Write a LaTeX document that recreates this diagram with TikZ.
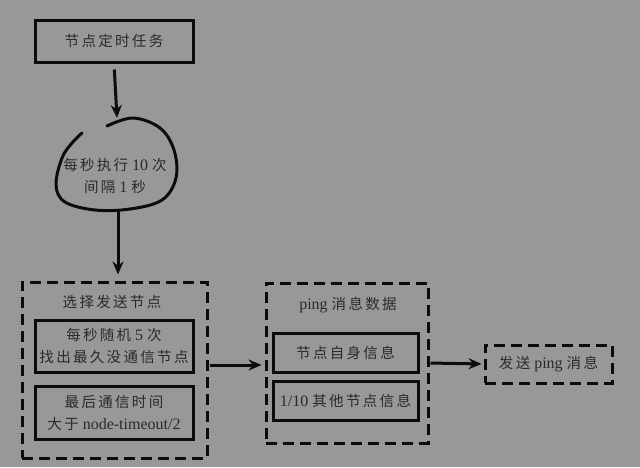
\documentclass[tikz,border=0pt]{standalone}
\usepackage{fontspec}
\setmainfont{Liberation Serif}
\newfontfamily\cjk[LetterSpace=16]{Noto Sans CJK SC}
\usetikzlibrary{arrows.meta,shapes.geometric}
\definecolor{bg}{RGB}{152,152,152}
\definecolor{ink}{RGB}{12,12,12}
\definecolor{txt}{RGB}{42,42,42}
\tikzset{
  solidbox/.style 2 args={draw=ink, line width=3pt, minimum width=#1, minimum height=#2, inner sep=0pt, align=center},
  dashbox/.style 2 args={draw=ink, line width=3pt, dash pattern=on 11pt off 6pt, minimum width=#1, minimum height=#2, inner sep=0pt},
  label/.style={inner sep=0pt, align=center},
  arr/.style={draw=ink, line width=3pt, -{Stealth[length=13pt,width=11pt]}},
  blobline/.style={draw=ink, line width=3pt, line cap=round}
}
\begin{document}
\begin{tikzpicture}[x=1pt,y=-1pt, font=\fontsize{16}{22}\selectfont, text=txt]
\fill[bg] (0,0) rectangle (640,467);
\useasboundingbox (0,0) rectangle (640,467);

% top task box
\node[solidbox={158pt}{42pt}] (task) at (114,41) {\cjk\fontsize{14.5}{22}\selectfont 节点定时任务};

% blob
\node[label] (blob) at (115,176) {{\cjk\fontsize{14.5}{22}\selectfont 每秒执行} 10 {\cjk\fontsize{14.5}{22}\selectfont 次}\\{\cjk\fontsize{14.5}{22}\selectfont 间隔} 1 {\cjk\fontsize{14.5}{22}\selectfont 秒}};
\coordinate (blobtop) at (117,118);
\coordinate (blobbot) at (118,211);
\draw[blobline] plot[smooth, tension=0.6] coordinates {(107,126) (133,118) (160,128) (174,150) (176,178) (162,200) (130,209) (95,210) (65,202) (56,185) (62,158) (72,143) (82,133)};

% select box
\node[dashbox={185pt}{176pt}] (sel) at (114.5,370) {};
\node[label] (seltitle) at (112,302) {\cjk\fontsize{14.5}{22}\selectfont 选择发送节点};
\node[solidbox={158pt}{52pt}] (ia) at (114,346) {{\cjk\fontsize{14.5}{22}\selectfont 每秒随机} 5 {\cjk\fontsize{14.5}{22}\selectfont 次}\\{\cjk\fontsize{14.5}{22}\selectfont 找出最久没通信节点}};
\node[solidbox={158pt}{53pt}] (ib) at (114,413) {{\cjk\fontsize{14.5}{22}\selectfont 最后通信时间}\\{\cjk\fontsize{14.5}{22}\selectfont 大于} node-timeout/2};

% ping data box
\node[dashbox={162pt}{160pt}] (ping) at (347,363) {};
\node[label] (pingtitle) at (348,305) {ping {\cjk\fontsize{14.5}{22}\selectfont 消息数据}};
\node[solidbox={145pt}{39pt}] (ic) at (345.5,352.5) {\cjk\fontsize{14.5}{22}\selectfont 节点自身信息};
\node[solidbox={145pt}{39pt}] (id) at (345.5,400.5) {1/10 {\cjk\fontsize{14.5}{22}\selectfont 其他节点信息}};

% send box
\node[dashbox={127pt}{38pt}] (send) at (548.5,364) {{\cjk\fontsize{14.5}{22}\selectfont 发送} ping {\cjk\fontsize{14.5}{22}\selectfont 消息}};

% arrows
\draw[arr, shorten <=6pt] (task.south) -- (blobtop);
\draw[arr, shorten >=6pt] (blobbot) -- (sel.north -| blobbot);
\draw[arr, shorten <=1pt, shorten >=3pt] ([yshift=5pt]sel.east) -- ([yshift=-2pt]ping.west);
\draw[arr, shorten <=1pt, shorten >=2pt] (ping.east) -- (send.west);
\end{tikzpicture}
\end{document}
